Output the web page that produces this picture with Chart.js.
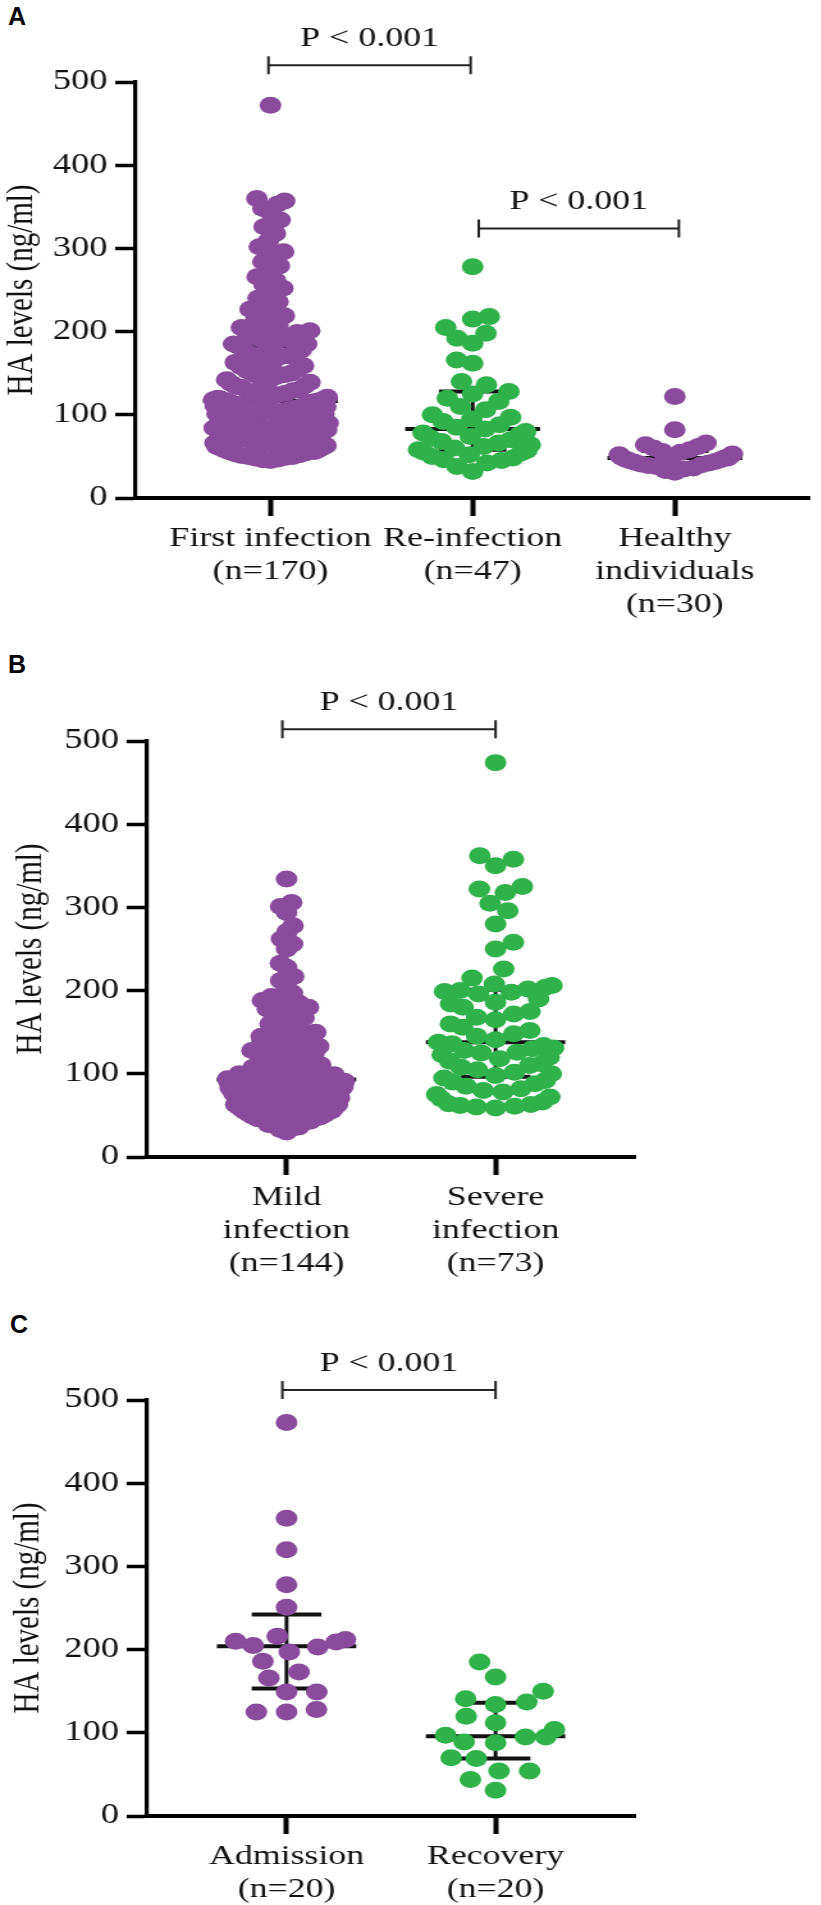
<!DOCTYPE html>
<html>
<head>
<meta charset="utf-8">
<script src="https://cdn.jsdelivr.net/npm/chart.js@4.4.1/dist/chart.umd.min.js"></script>
<style>
  body { margin: 0; background: #fff; width: 821px; height: 1905px; position: relative; overflow: hidden; }
  .panel { position: absolute; left: 0; transform: scaleX(1.28); transform-origin: 0 0; }
  .tag { position: absolute; font: bold 25px 'Liberation Sans', Arial, sans-serif; line-height: 25px; color: #000; }
</style>
</head>
<body>
<div class="tag" style="left:8px;top:4px">A</div>
<div class="tag" style="left:8px;top:652px">B</div>
<div class="tag" style="left:10px;top:1312px">C</div>
<div class="panel" style="top:0px"><canvas id="chartA" width="641" height="659"></canvas></div>
<div class="panel" style="top:659px"><canvas id="chartB" width="641" height="659"></canvas></div>
<div class="panel" style="top:1318px"><canvas id="chartC" width="641" height="587"></canvas></div>
<script>
// values (ng/ml)
const yTicks = [0, 100, 200, 300, 400, 500];
const yTitle = 'HA levels (ng/ml)';
const pText = 'P < 0.001';

const catsA = [['First infection', '(n=170)'], ['Re-infection', '(n=47)'], ['Healthy', 'individuals', '(n=30)']];
const firstInfection = [
  472, 360, 357, 353, 348, 343, 334, 326, 318, 309, 302, 296, 291,
  284, 279, 272, 266, 261, 257, 252, 246, 240, 236, 231, 227, 223, 219, 215, 211, 208, 205, 203, 201,
  199, 198, 195, 194, 191, 190, 188, 185, 185, 182, 181, 178, 177, 176, 172, 171, 170, 166, 165, 163, 160, 159, 158, 155, 153, 150,
  149, 148, 146, 143, 142, 141, 139, 138, 135, 134, 133, 130, 129, 128, 126, 126, 124, 123, 121, 121, 120, 119, 118, 118, 117, 117,
  116, 116, 115, 114, 113, 112, 111, 110, 110, 109, 108, 107, 106, 105, 104, 103, 102, 101, 101, 100,
  99, 98, 97, 96, 96, 95, 94, 93, 92, 91, 90, 90, 89, 88, 87, 86, 85, 84, 84, 83, 82, 81, 81, 80,
  79, 78, 78, 77, 76, 75, 74, 73, 72, 72, 71, 70, 69, 68, 67, 66, 66, 65, 64, 63, 62, 62, 61, 60,
  59, 58, 57, 56, 56, 55, 54, 53, 52, 51, 50, 50, 49, 48, 47, 46, 45
];
const reInfection = [
  278, 218, 215, 205, 198, 192, 186, 166, 162, 140, 136, 128, 125, 120, 116, 110, 106, 100, 97, 95, 92, 88, 85,
  83, 80, 78, 76, 74, 72, 70, 68, 66, 64, 62, 60, 58, 57, 55, 54, 52, 50, 48, 46, 45, 42, 38, 32
];
const healthy = [
  122, 82, 66, 64, 62, 60, 58, 56, 55, 53, 52, 51, 50, 49, 48,
  48, 47, 46, 45, 44, 43, 42, 41, 40, 39, 38, 36, 35, 33, 31
];

const catsB = [['Mild', 'infection', '(n=144)'], ['Severe', 'infection', '(n=73)']];
const mildInfection = [
  334, 306, 301, 294, 278, 271, 262, 256, 250, 233, 228, 217, 212, 204,
  197, 193, 190, 188, 185, 183, 180, 178, 176, 172, 170, 167, 163, 160, 157, 155, 152, 150, 147, 145, 143, 141,
  139, 138, 136, 135, 133, 131, 130, 128, 126, 125, 124, 122, 120, 118, 117, 115, 114, 112, 111, 109, 108, 106, 105, 104, 103, 101, 100, 99, 98, 97, 96, 96, 95, 94, 94, 93,
  93, 92, 92, 91, 90, 90, 89, 88, 88, 87, 86, 86, 85, 84, 84, 83, 82, 82, 81, 81, 80, 80,
  79, 78, 78, 77, 76, 75, 75, 74, 73, 72, 71, 71, 70, 69, 68, 67, 67, 66, 65, 64, 63, 63, 62, 61, 61, 60,
  59, 58, 57, 56, 55, 54, 54, 53, 52, 51, 50, 49, 48, 47, 46, 45, 43, 42,
  39, 38, 36, 35, 33, 30
];
const severeInfection = [
  474, 362, 358, 350, 325, 322, 318, 305, 296, 280, 258, 250, 226,
  215, 208, 206, 204, 202, 200, 199, 198, 196, 190, 186, 184, 180, 175, 172, 168, 165, 160, 156, 152, 148, 145, 141,
  138,
  136, 134, 131, 130, 128, 126, 125, 123, 120, 118, 115, 112, 110, 108, 105, 102, 100, 98, 95, 92,
  90, 88, 85, 82, 80, 78, 75, 72, 70, 66, 64, 63, 62, 61, 60, 59
];

const catsC = [['Admission', '(n=20)'], ['Recovery', '(n=20)']];
const admission = [473, 358, 320, 278, 251, 216, 212, 210, 209, 205, 203, 197, 186, 173, 166, 149, 149, 128, 125, 125];
const recovery = [185, 167, 150, 141, 137, 134, 120, 112, 104, 97, 95, 95, 89, 88, 70, 69, 54, 54, 44, 31];

const purple = '#8a4b9d';
const green = '#30b24a';
const ink = '#111';
const SERIF = "'Liberation Serif', 'Times New Roman', serif";
const DOT = 8.5;

// GraphPad-style percentile
function quantile(sorted, q) {
  const n = sorted.length;
  const p = q * (n + 1);
  if (p <= 1) return sorted[0];
  if (p >= n) return sorted[n - 1];
  const lo = Math.floor(p);
  return sorted[lo - 1] + (p - lo) * (sorted[lo] - sorted[lo - 1]);
}

// median + interquartile range, drawn under the dots
const iqrBars = {
  id: 'iqrBars',
  beforeDatasetsDraw(chart) {
    const { ctx, scales: { x, y } } = chart;
    ctx.save();
    ctx.strokeStyle = ink;
    chart.data.datasets.forEach((ds, i) => {
      const s = ds.values.slice().sort((a, b) => a - b);
      const med = quantile(s, 0.5), q1 = quantile(s, 0.25), q3 = quantile(s, 0.75);
      const c = i + 1;
      ctx.lineWidth = 3;
      ctx.beginPath();
      ctx.moveTo(x.getPixelForValue(c), y.getPixelForValue(q1));
      ctx.lineTo(x.getPixelForValue(c), y.getPixelForValue(q3));
      ctx.stroke();
      ctx.lineWidth = 4;
      [[med, 1 / 3], [q1, 1 / 6], [q3, 1 / 6]].forEach(([v, half]) => {
        ctx.beginPath();
        ctx.moveTo(x.getPixelForValue(c - half), y.getPixelForValue(v));
        ctx.lineTo(x.getPixelForValue(c + half), y.getPixelForValue(v));
        ctx.stroke();
      });
    });
    ctx.restore();
  }
};

// significance brackets above the groups
const pBrackets = {
  id: 'pBrackets',
  afterDraw(chart, args, opts) {
    const { ctx, scales: { x, y } } = chart;
    ctx.save();
    ctx.strokeStyle = '#222';
    ctx.fillStyle = ink;
    ctx.lineWidth = 2;
    ctx.font = '28px ' + SERIF;
    ctx.textAlign = 'center';
    ctx.textBaseline = 'alphabetic';
    (opts.items || []).forEach(b => {
      const x1 = x.getPixelForValue(b.from), x2 = x.getPixelForValue(b.to), yy = y.getPixelForValue(b.at);
      ctx.beginPath();
      ctx.moveTo(x1, yy); ctx.lineTo(x2, yy);
      ctx.moveTo(x1, yy - 9); ctx.lineTo(x1, yy + 9);
      ctx.moveTo(x2, yy - 9); ctx.lineTo(x2, yy + 9);
      ctx.stroke();
      ctx.fillText(pText, (x1 + x2) / 2, yy - 19);
    });
    ctx.restore();
  }
};

// beeswarm without overlap, then squeezed sideways (softly) if wider than maxHalf
function swarmOffsets(values, yScale, maxHalf) {
  const d = 2 * DOT;
  const ys = values.map(v => yScale.getPixelForValue(v));
  const order = ys.map((_, i) => i).sort((a, b) => ys[b] - ys[a]);
  const placed = [];
  const xs = new Array(values.length).fill(0);
  order.forEach((i, k) => {
    const y = ys[i];
    const near = placed.filter(p => Math.abs(p.y - y) < d);
    const cands = [0];
    near.forEach(p => {
      const w = Math.sqrt(d * d - (p.y - y) * (p.y - y));
      cands.push(p.x + w, p.x - w);
    });
    const side = k % 2 ? 1 : -1;
    cands.sort((a, b) => Math.abs(a) - Math.abs(b) || (a - b) * side);
    let best = 0;
    for (const c of cands) {
      if (near.every(p => (p.x - c) * (p.x - c) + (p.y - y) * (p.y - y) >= d * d - 0.01)) { best = c; break; }
    }
    xs[i] = best;
    placed.push({ x: best, y });
  });
  const widest = Math.max(...xs.map(Math.abs));
  if (widest <= maxHalf) return xs;
  const a = 1.5;
  return xs.map(v => maxHalf * Math.tanh(a * v / widest) / Math.tanh(a));
}

function makePanel(id, cats, groups, colors, o) {
  const chart = new Chart(document.getElementById(id), {
    type: 'scatter',
    data: {
      datasets: groups.map((g, i) => ({
        values: g,
        data: g.map(v => ({ x: i + 1, y: v })),
        pointBackgroundColor: colors[i],
        pointBorderWidth: 0,
        pointRadius: DOT,
        pointHoverRadius: DOT
      }))
    },
    options: {
      responsive: false,
      animation: false,
      events: [],
      layout: { padding: { top: 82, left: 0, right: o.padRight, bottom: 0 } },
      plugins: {
        legend: { display: false },
        tooltip: { enabled: false },
        pBrackets: { items: o.brackets }
      },
      scales: {
        x: {
          type: 'linear',
          min: 1 / 3,
          max: cats.length + 2 / 3,
          afterBuildTicks: s => { s.ticks = cats.map((c, i) => ({ value: i + 1 })); },
          afterFit: s => { s.height = o.xH; },
          ticks: {
            callback: (v, i) => cats[i],
            font: { family: SERIF, size: 28, lineHeight: 1.18 },
            color: ink,
            padding: 6,
            maxRotation: 0,
            autoSkip: false
          },
          grid: { drawOnChartArea: false, tickLength: 18, tickWidth: 4, tickColor: '#000', color: '#000' },
          border: { color: '#000', width: 4 }
        },
        y: {
          min: 0,
          max: 500,
          afterBuildTicks: s => { s.ticks = yTicks.map(v => ({ value: v })); },
          afterFit: s => { s.width = o.yW; },
          ticks: { font: { family: SERIF, size: 28.5 }, color: ink, padding: 6 },
          grid: { drawOnChartArea: false, tickLength: 16, tickWidth: 3.5, tickColor: '#000', color: '#000' },
          border: { color: '#000', width: 3.2 },
          title: {
            display: true,
            text: yTitle,
            font: { family: SERIF, size: 29 },
            color: ink,
            padding: { top: o.titlePad, bottom: 0 }
          }
        }
      }
    },
    plugins: [iqrBars, pBrackets]
  });

  const x = chart.scales.x, y = chart.scales.y;
  const unit = x.getPixelForValue(2) - x.getPixelForValue(1);
  chart.data.datasets.forEach((ds, i) => {
    const offs = swarmOffsets(ds.values, y, o.maxHalf);
    ds.data = ds.values.map((v, k) => ({ x: i + 1 + offs[k] / unit, y: v }));
  });
  chart.update('none');
  return chart;
}

makePanel('chartA', catsA, [firstInfection, reInfection, healthy], [purple, green, purple], {
  yW: 106, xH: 161, padRight: 3.5, titlePad: 0, maxHalf: 45,
  brackets: [{ from: 0.99, to: 1.99, at: 520 }, { from: 2.03, to: 3.02, at: 324 }]
});
makePanel('chartB', catsB, [mildInfection, severeInfection], [purple, green], {
  yW: 115, xH: 161, padRight: 145, titlePad: 7, maxHalf: 46,
  brackets: [{ from: 0.98, to: 2, at: 514 }]
});
makePanel('chartC', catsC, [admission, recovery], [purple, green], {
  yW: 115, xH: 89, padRight: 145, titlePad: 5, maxHalf: 46,
  brackets: [{ from: 0.98, to: 2, at: 512 }]
});
</script>
</body>
</html>
